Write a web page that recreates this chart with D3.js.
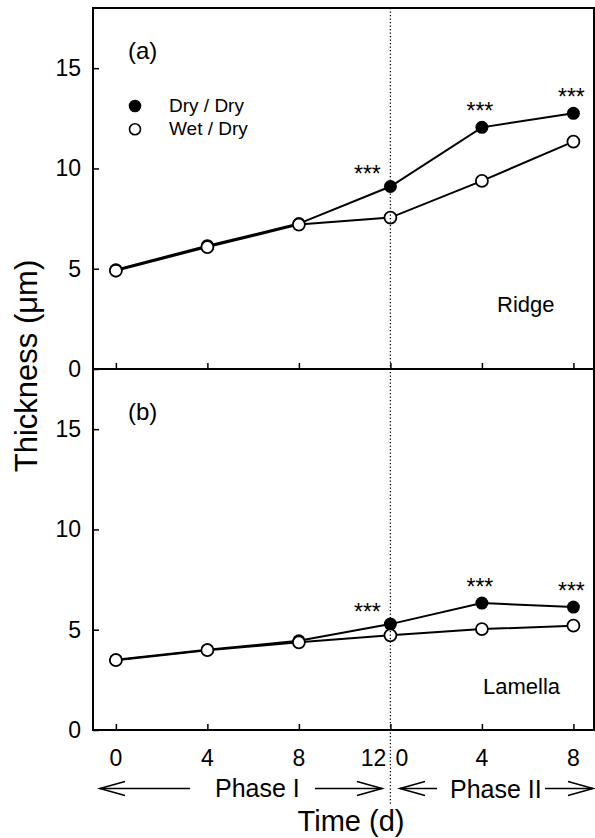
<!DOCTYPE html>
<html>
	<head>
		<meta charset="utf-8">
		<title> thickness </title>
		<script src="https://cdnjs.cloudflare.com/ajax/libs/d3/7.8.5/d3.min.js"></script>
		<style>
			body { margin: 0; background: #fff; }
			text { font-family: 'Liberation Sans', Arial, sans-serif; fill: #000; }
		</style>
	</head>

	<body>
		<script>

		// sampling days, phase I 0..12 continues into phase II 0..8
		let days = [0, 4, 8, 12, 16, 20];
		let dayLabels = ['0', '4', '8', '12', '0', '4', '8'];
		let yTicks = [0, 5, 10, 15];

		let ridgeDry = [4.95, 6.15, 7.25, 9.1, 12.05, 12.75];
		let ridgeWet = [4.9, 6.08, 7.2, 7.55, 9.38, 11.34];
		let lamellaDry = [3.5, 4.0, 4.45, 5.28, 6.33, 6.13];
		let lamellaWet = [3.48, 3.98, 4.37, 4.72, 5.03, 5.2];
		let starred = [3, 4, 5];

		let width = 595,
			height = 838,
			left = 93,
			right = 594;

		let svg = d3.select('body')
					.append('svg')
					.attr('width', width)
					.attr('height', height);

		let xScale = d3.scaleLinear()
						.domain([-1, 20.9])
						.range([left, right]);

		let panels = [
			{ tag: '(a)', name: 'Ridge', dry: ridgeDry, wet: ridgeWet, top: 8, bottom: 369, nameX: 497, nameY: 312 },
			{ tag: '(b)', name: 'Lamella', dry: lamellaDry, wet: lamellaWet, top: 369, bottom: 730, nameX: 483, nameY: 694 }
		];

		panels.forEach((p) => {
			let yScale = d3.scaleLinear()
							.domain([0, 18])
							.range([p.bottom, p.top]);

			let g = svg.append('g');

			// frame
			g.append('rect')
				.attr('x', left)
				.attr('y', p.top)
				.attr('width', right - left)
				.attr('height', p.bottom - p.top)
				.attr('fill', 'none')
				.attr('stroke', '#000')
				.attr('stroke-width', 2);

			let yAxis = d3.axisLeft(yScale)
							.tickValues(yTicks)
							.tickSizeInner(-6)
							.tickSizeOuter(0)
							.tickPadding(12);

			g.append('g')
				.attr('transform', 'translate(' + left + ',0)')
				.call(yAxis)
				.call(a => a.select('.domain').remove())
				.call(a => a.selectAll('line').attr('stroke-width', 1.5))
				.call(a => a.selectAll('text').attr('font-size', 23).attr('font-family', null));

			let xAxis = d3.axisBottom(xScale)
							.tickValues(days)
							.tickSizeInner(-6)
							.tickSizeOuter(0)
							.tickFormat('');

			g.append('g')
				.attr('transform', 'translate(0,' + p.bottom + ')')
				.call(xAxis)
				.call(a => a.select('.domain').remove())
				.call(a => a.selectAll('line').attr('stroke-width', 1.5));

			let line = d3.line()
						.x((d, i) => xScale(days[i]))
						.y((d) => yScale(d));

			[p.dry, p.wet].forEach((s) => {
				g.append('path')
					.attr('d', line(s))
					.attr('fill', 'none')
					.attr('stroke', '#000')
					.attr('stroke-width', 2);
			});

			g.selectAll('.dry')
				.data(p.dry)
				.enter()
				.append('circle')
				.attr('cx', (d, i) => xScale(days[i]))
				.attr('cy', (d) => yScale(d))
				.attr('r', 6.5)
				.attr('fill', '#000');

			g.selectAll('.wet')
				.data(p.wet)
				.enter()
				.append('circle')
				.attr('cx', (d, i) => xScale(days[i]))
				.attr('cy', (d) => yScale(d))
				.attr('r', 6)
				.attr('fill', '#fff')
				.attr('stroke', '#000')
				.attr('stroke-width', 1.8);

			g.selectAll('.star')
				.data(starred)
				.enter()
				.append('text')
				.text('***')
				.attr('font-size', 23)
				.attr('text-anchor', 'middle')
				.attr('x', (i) => xScale(days[i]) + (i == 3 ? -23 : -2))
				.attr('y', (i) => yScale(p.dry[i]) - (i == 3 ? 16 : 20) + 12);

			g.append('text')
				.text(p.tag)
				.attr('x', 128)
				.attr('y', p.top + 51)
				.attr('font-size', 24);

			g.append('text')
				.text(p.name)
				.attr('x', p.nameX)
				.attr('y', p.nameY)
				.attr('font-size', 22);
		});

		// legend in panel (a)
		let legend = [['Dry / Dry', '#000'], ['Wet / Dry', '#fff']];
		legend.forEach((l, i) => {
			svg.append('circle')
				.attr('cx', 135)
				.attr('cy', 106 + i * 23.3)
				.attr('r', 5.5)
				.attr('fill', l[1])
				.attr('stroke', '#000')
				.attr('stroke-width', 1.6);
			svg.append('text')
				.text(l[0])
				.attr('x', 169)
				.attr('y', 112 + i * 23.3)
				.attr('font-size', 19);
		});

		// phase boundary
		svg.append('line')
			.attr('x1', xScale(12))
			.attr('x2', xScale(12))
			.attr('y1', 8)
			.attr('y2', 805)
			.attr('stroke', '#000')
			.attr('stroke-width', 1.3)
			.attr('stroke-dasharray', '1.3,2.2');

		// x tick labels
		svg.selectAll('.xl')
			.data(dayLabels)
			.enter()
			.append('text')
			.text((d) => d)
			.attr('font-size', 23)
			.attr('y', 766)
			.attr('text-anchor', (d, i) => i == 3 ? 'end' : (i == 4 ? 'start' : 'middle'))
			.attr('x', (d, i) => {
				if (i == 3) return xScale(12) - 4;
				if (i == 4) return xScale(12) + 5;
				return xScale(days[i > 3 ? i - 1 : i]);
			});

		// phase arrows
		let arrows = [[190, 100], [315, 382], [437, 400], [545, 593]];
		arrows.forEach((a) => {
			let y = 788.5,
				dir = a[1] > a[0] ? 1 : -1;
			svg.append('line')
				.attr('x1', a[0]).attr('x2', a[1])
				.attr('y1', y).attr('y2', y)
				.attr('stroke', '#000')
				.attr('stroke-width', 1.6);
			svg.append('path')
				.attr('d', 'M' + (a[1] - dir * 25) + ',' + (y - 7) + 'L' + a[1] + ',' + y + 'L' + (a[1] - dir * 25) + ',' + (y + 7))
				.attr('fill', 'none')
				.attr('stroke', '#000')
				.attr('stroke-width', 1.6);
		});

		svg.append('text')
			.text('Phase I')
			.attr('x', 215)
			.attr('y', 797)
			.attr('font-size', 25);

		svg.append('text')
			.text('Phase II')
			.attr('x', 450)
			.attr('y', 798)
			.attr('font-size', 25);

		svg.append('text')
			.text('Time (d)')
			.attr('x', 351)
			.attr('y', 831)
			.attr('text-anchor', 'middle')
			.attr('font-size', 29);

		svg.append('text')
			.text('Thickness (μm)')
			.attr('transform', 'translate(37,366) rotate(-90)')
			.attr('text-anchor', 'middle')
			.attr('font-size', 31);

		</script>
	</body>
</html>
